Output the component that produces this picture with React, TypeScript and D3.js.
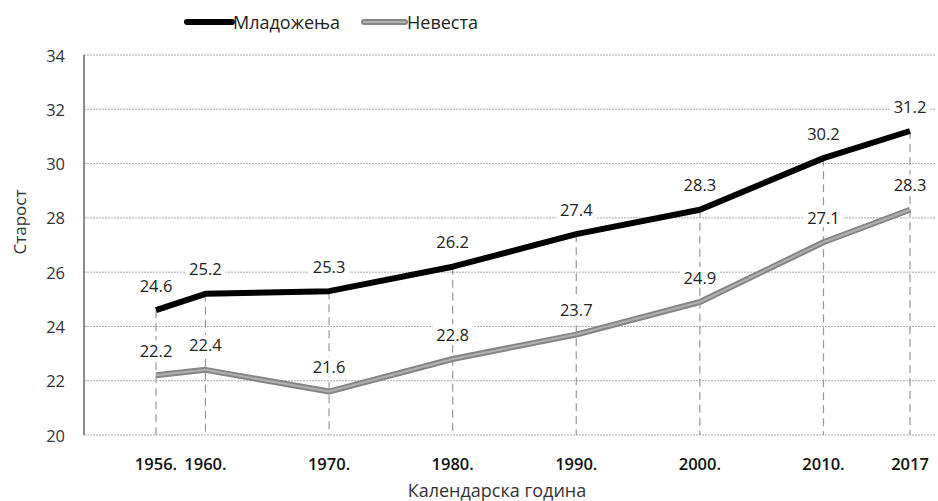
import React from "react";
import * as d3 from "d3";

const years = [1956, 1960, 1970, 1980, 1990, 2000, 2010, 2017];
const yearLabels = ["1956.", "1960.", "1970.", "1980.", "1990.", "2000.", "2010.", "2017"];
const groom = [24.6, 25.2, 25.3, 26.2, 27.4, 28.3, 30.2, 31.2];
const bride = [22.2, 22.4, 21.6, 22.8, 23.7, 24.9, 27.1, 28.3];
const yTicks = [20, 22, 24, 26, 28, 30, 32, 34];
const seriesNames = ["Младожења", "Невеста"];

const W = 938, H = 501;
const FONT = "'Open Sans', 'Noto Sans', sans-serif";

export default function App() {
  const x = d3.scaleLinear().domain([1956, 2017]).range([156, 910]);
  const y = d3.scaleLinear().domain([20, 34]).range([435, 55]);
  const line = d3.line<number>().x((_, i) => x(years[i])).y((d) => y(d));
  const gridRight = 935;
  const labelW = 40, labelH = 20;

  const labels = (vals: number[]) =>
    vals.map((v, i) => {
      const cx = x(years[i]);
      const cy = y(v) - 25;
      return (
        <g key={i}>
          <rect x={cx - labelW / 2} y={cy - labelH / 2} width={labelW} height={labelH} fill="#fff" />
          <text x={cx} y={cy} textAnchor="middle" dominantBaseline="central" fontSize={16.5} fill="#222" fontFamily={FONT}>
            {v.toFixed(1)}
          </text>
        </g>
      );
    });

  return (
    <svg width={W} height={H} style={{ position: "absolute", left: 0, top: 0, background: "#fff" }}>
      <rect width={W} height={H} fill="#fff" />
      {yTicks.map((t) => (
        <line key={t} x1={84} x2={gridRight} y1={y(t)} y2={y(t)} stroke="#aaa" strokeWidth={1} strokeDasharray="2,1" />
      ))}
      <line x1={84} x2={84} y1={y(34)} y2={y(20)} stroke="#666" strokeWidth={1.5} />
      {yTicks.map((t) => (
        <text key={t} x={65} y={y(t)} textAnchor="end" dominantBaseline="central" fontSize={16.5} fill="#333" fontFamily={FONT}>
          {t}
        </text>
      ))}
      {years.map((yr, i) => (
        <line key={yr} x1={x(yr)} x2={x(yr)} y1={y(groom[i])} y2={y(20)} stroke="#999" strokeWidth={1.2} strokeDasharray="8,5" />
      ))}
      {years.map((yr, i) => (
        <text key={yr} x={x(yr)} y={463} textAnchor="middle" dominantBaseline="central" fontSize={16.5} fontWeight={600} fill="#111" fontFamily={FONT}>
          {yearLabels[i]}
        </text>
      ))}
      <text x={497} y={490} textAnchor="middle" dominantBaseline="central" fontSize={18} fill="#333" fontFamily={FONT}>
        Календарска година
      </text>
      <text transform={`translate(19,222) rotate(-90)`} textAnchor="middle" dominantBaseline="central" fontSize={17} fill="#333" fontFamily={FONT}>
        Старост
      </text>
      {labels(groom)}
      {labels(bride)}
      <path d={line(bride) || ""} fill="none" stroke="#858585" strokeWidth={6} strokeLinejoin="round" />
      <path d={line(bride) || ""} fill="none" stroke="#b0b0b0" strokeWidth={2} strokeLinejoin="round" />
      <path d={line(groom) || ""} fill="none" stroke="#000" strokeWidth={6} strokeLinejoin="round" />
      <line x1={187} x2={232} y1={22} y2={22} stroke="#000" strokeWidth={6} strokeLinecap="round" />
      <text x={233} y={22} dominantBaseline="central" fontSize={18} fill="#222" fontFamily={FONT}>{seriesNames[0]}</text>
      <line x1={364} x2={405} y1={22} y2={22} stroke="#858585" strokeWidth={6} strokeLinecap="round" />
      <line x1={364} x2={405} y1={22} y2={22} stroke="#b0b0b0" strokeWidth={2} strokeLinecap="round" />
      <text x={407} y={22} dominantBaseline="central" fontSize={18} fill="#222" fontFamily={FONT}>{seriesNames[1]}</text>
    </svg>
  );
}
